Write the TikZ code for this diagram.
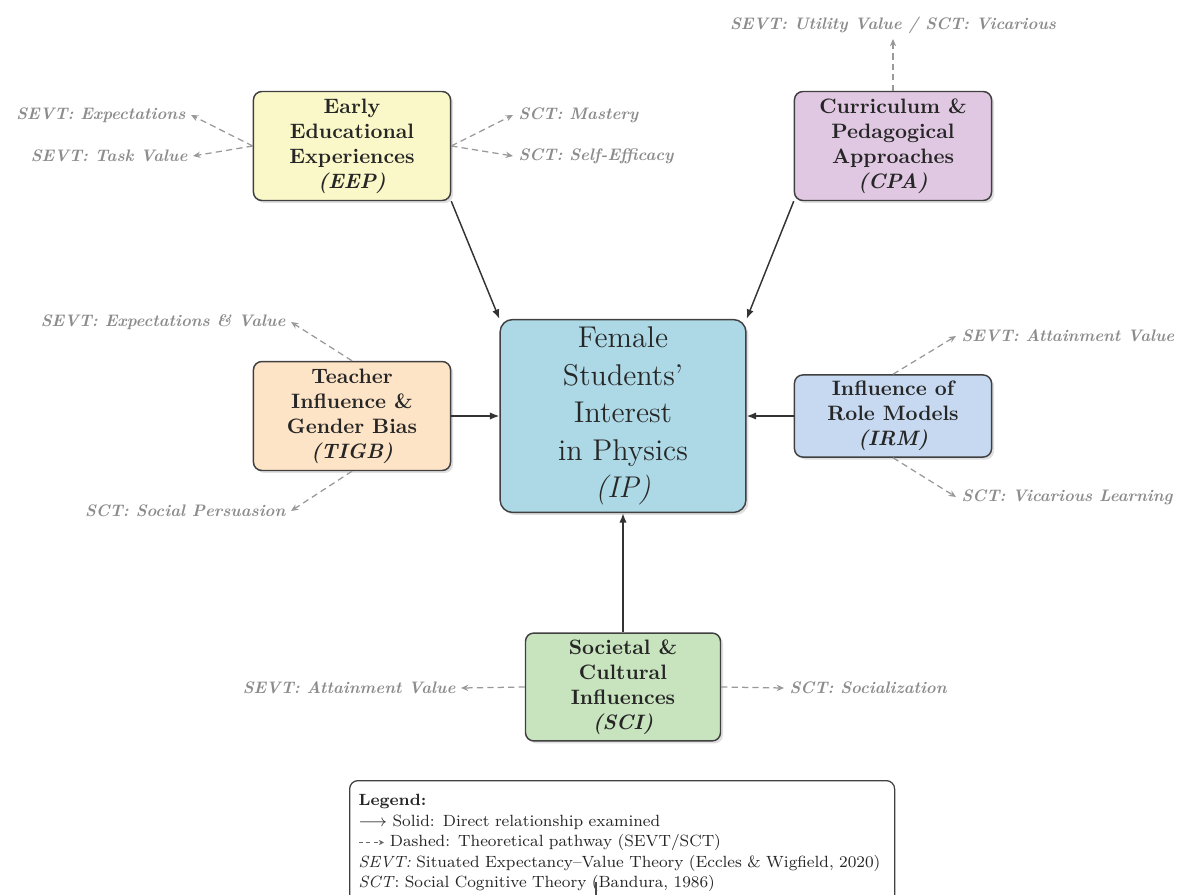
\documentclass[tikz,border=0pt]{standalone}
\usetikzlibrary{arrows.meta,shadows}

\definecolor{eepfill}{RGB}{250,248,200}
\definecolor{cpafill}{RGB}{224,200,226}
\definecolor{ipfill}{RGB}{173,216,230}
\definecolor{tigbfill}{RGB}{254,228,198}
\definecolor{irmfill}{RGB}{198,217,240}
\definecolor{scifill}{RGB}{200,228,190}

\tikzset{
  factor/.style={draw=black!75, line width=0.7pt, rounded corners=4pt,
    align=center, font=\bfseries, text=black!85, inner sep=2pt,
    minimum width=94.6pt, minimum height=52.3pt,
    drop shadow={shadow xshift=1.2pt, shadow yshift=-1.2pt, opacity=0.25}},
  outcome/.style={draw=black!75, line width=0.7pt, rounded corners=6pt,
    align=center, font=\Large, text=black!85, inner sep=2pt,
    minimum width=118pt, minimum height=92.6pt,
    drop shadow={shadow xshift=1.2pt, shadow yshift=-1.2pt, opacity=0.25}},
  theory/.style={font=\footnotesize\bfseries\itshape, text=black!45, inner sep=2.5pt},
  direct/.style={draw=black!80, line width=0.7pt, -{Latex[length=4.5pt,width=3.5pt]}},
  pathway/.style={draw=black!40, line width=0.6pt, dash pattern=on 3pt off 2pt,
    -{Stealth[length=3.5pt,width=3pt]}},
  legendbox/.style={draw=black!75, line width=0.6pt, rounded corners=4pt,
    align=left, font=\fontsize{7.8}{9.85}\selectfont, text=black!85,
    inner xsep=4.3pt, inner ysep=6.6pt, text width=253pt, anchor=north west}
}

\begin{document}
\begin{tikzpicture}[x=0.48pt, y=-0.48pt]
\useasboundingbox (0,0) rectangle (1179,895);

% central outcome
\node[outcome, fill=ipfill] (ip) at (623,416)
  {Female\\Students'\\Interest\\in Physics\\\textit{(IP)}};

% influencing factors
\node[factor, fill=eepfill] (eep) at (352,146)
  {Early\\Educational\\Experiences\\\textit{(EEP)}};
\node[factor, fill=cpafill] (cpa) at (893,146)
  {Curriculum \&\\Pedagogical\\Approaches\\\textit{(CPA)}};
\node[factor, fill=tigbfill] (tigb) at (352,416)
  {Teacher\\Influence \&\\Gender Bias\\\textit{(TIGB)}};
\node[factor, fill=irmfill, minimum height=39.4pt] (irm) at (893,416)
  {Influence of\\Role Models\\\textit{(IRM)}};
\node[factor, fill=scifill, minimum width=93.6pt, minimum height=51.8pt] (sci) at (623,687)
  {Societal \&\\Cultural\\Influences\\\textit{(SCI)}};

% direct relationships
\draw[direct] (eep.south east) -- (ip.north west);
\draw[direct] (cpa.south west) -- (ip.north east);
\draw[direct] (tigb.east) -- (ip.west);
\draw[direct] (irm.west) -- (ip.east);
\draw[direct] (sci.north) -- (ip.south);

% theoretical pathway labels
\node[theory, anchor=east] (l1) at (191,115) {SEVT: Expectations};
\node[theory, anchor=east] (l2) at (193,156) {SEVT: Task Value};
\node[theory, anchor=west] (l3) at (513,115) {SCT: Mastery};
\node[theory, anchor=west] (l4) at (513,156) {SCT: Self-Efficacy};
\node[theory] (l5) at (893,25) {SEVT: Utility Value / SCT: Vicarious};
\node[theory, anchor=east] (l6) at (291,322) {SEVT: Expectations \& Value};
\node[theory, anchor=east] (l7) at (291,511) {SCT: Social Persuasion};
\node[theory, anchor=west] (l8) at (956,336) {SEVT: Attainment Value};
\node[theory, anchor=west] (l9) at (956,497) {SCT: Vicarious Learning};
\node[theory, anchor=east] (l10) at (461,688) {SEVT: Attainment Value};
\node[theory, anchor=west] (l11) at (784,688) {SCT: Socialization};

% theoretical pathways
\draw[pathway] (eep.west) -- (l1.east);
\draw[pathway] (eep.west) -- (l2.east);
\draw[pathway] (eep.east) -- (l3.west);
\draw[pathway] (eep.east) -- (l4.west);
\draw[pathway] (cpa.north) -- (l5.south);
\draw[pathway] (tigb.north) -- (l6.east);
\draw[pathway] (tigb.south) -- (l7.east);
\draw[pathway] (irm.north) -- (l8.west);
\draw[pathway] (irm.south) -- (l9.west);
\draw[pathway] (sci.west) -- (l10.east);
\draw[pathway] (sci.east) -- (l11.west);

% legend
\node[legendbox] (legend) at (349,780) {%
  \textbf{Legend:}\\
  $\longrightarrow$ Solid: Direct relationship examined\\
  \textcolor{black!60}{\tikz[baseline=-0.6ex]\draw[dash pattern=on 2pt off 1.5pt,-{Stealth[length=2.5pt,width=2.5pt]}] (0pt,0pt) -- (12pt,0pt);}
  Dashed: Theoretical pathway (SEVT/SCT)\\
  \textit{SEVT:} Situated Expectancy--Value Theory (Eccles \& Wigfield, 2020)\\
  \textit{SCT}: Social Cognitive Theory (Bandura, 1986)\rule[-10pt]{0pt}{10pt}};
\coordinate (tick) at (596,882);
\draw[black!70, line width=0.5pt] (tick) -- ++(0,13);
\end{tikzpicture}
\end{document}
